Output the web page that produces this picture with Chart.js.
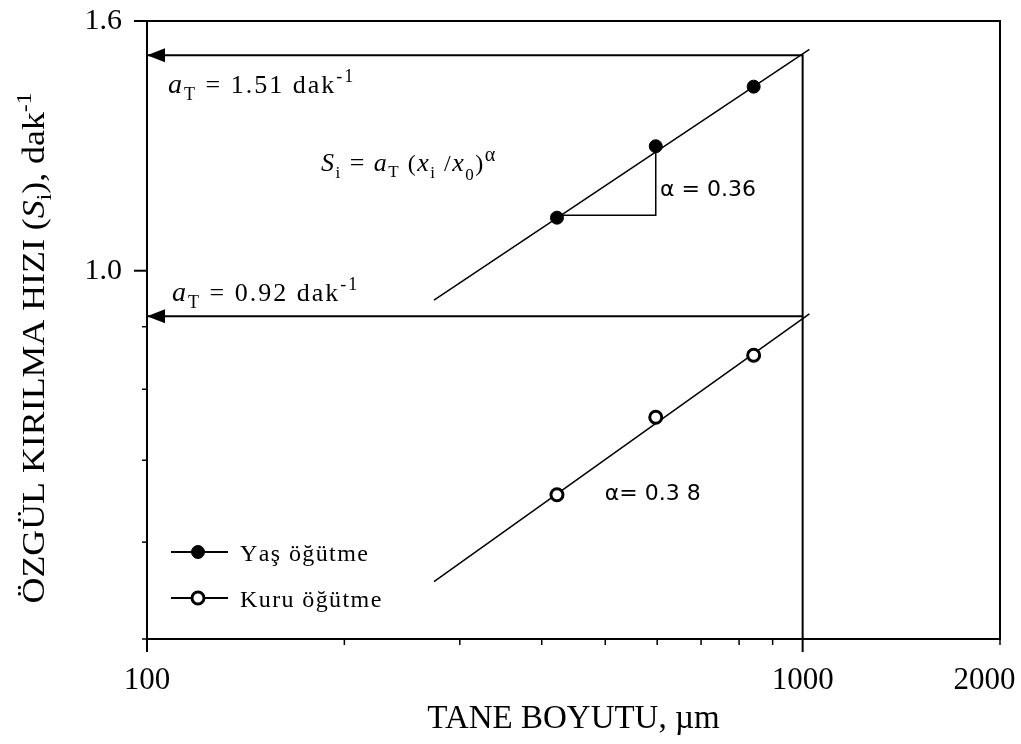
<!DOCTYPE html>
<html>
<head>
<meta charset="utf-8">
<script src="https://cdn.jsdelivr.net/npm/chart.js@4.4.0/dist/chart.umd.min.js"></script>
<style>
  html, body { margin: 0; padding: 0; background: #fff; }
  #wrap { width: 1021px; height: 744px; }
</style>
</head>
<body>
<div id="wrap"><canvas id="chart"></canvas></div>
<script>
// tane boyutu (µm) of the three fractions
const sizes = [422, 597, 842];
// özgül kırılma hızı S_i (dak-1)
const wetRates = [1.105, 1.264, 1.414];
const dryRates = [0.656, 0.759, 0.853];

// fitted lines, read at both ends
const fitX = [274, 1024];
const wetFitY = [0.946, 1.517];
const dryFitY = [0.557, 0.922];

// slope triangle on the wet line
const triX = [422, 597, 597];
const triY = [1.11, 1.11, 1.264];

// a_T read-off at x0 = 1000 µm
const wetReadX = [100, 1000, 1000];
const wetReadY = [1.50, 1.50, 0.5];
const dryReadX = [100, 1000];
const dryReadY = [0.918, 0.918];

const seriesNames = ['Yaş öğütme', 'Kuru öğütme'];

const xTicks = [100, 200, 300, 400, 500, 600, 700, 800, 900, 1000, 2000];
const xLabels = ['100', '', '', '', '', '', '', '', '', '1000', '2000'];
const xMajor = [100, 1000];
const yTicks = [0.5, 0.6, 0.7, 0.8, 0.9, 1.0, 1.6];
const yLabels = ['', '', '', '', '', '1.0', '1.6'];
const yMajor = [1.0, 1.6];

const SERIF = 'Liberation Serif';
const SANS = 'DejaVu Sans';

// text notes, anchored (left, baseline) in data units
const notes = [
  { x: 107.7, y: 1.397, sp: 2, parts: [['a', 'italic 28px ' + SERIF], ['T', '18px ' + SERIF, 7], [' = 1.51 dak', '26px ' + SERIF], ['-1', '18px ' + SERIF, -11]] },
  { x: 109.2, y: 0.9446, sp: 2, parts: [['a', 'italic 28px ' + SERIF], ['T', '18px ' + SERIF, 7], [' = 0.92 dak', '26px ' + SERIF], ['-1', '18px ' + SERIF, -11]] },
  { x: 184.2, y: 1.2067, sp: 1.5, parts: [['S', 'italic 26px ' + SERIF], ['i', '17px ' + SERIF, 7], [' = ', '26px ' + SERIF], ['a', 'italic 26px ' + SERIF], ['T', '17px ' + SERIF, 6], [' (', '24px ' + SERIF], ['x', 'italic 26px ' + SERIF], ['i', '17px ' + SERIF, 7], [' /', '24px ' + SERIF], ['x', 'italic 26px ' + SERIF], ['0', '17px ' + SERIF, 9], [')', '24px ' + SERIF], ['α', '20px ' + SERIF, -10]] },
  { x: 606, y: 1.151, sp: 0, parts: [['α = 0.36', '22px ' + SANS]] },
  { x: 499.3, y: 0.6496, sp: 0, parts: [['α= 0.3 8', '22px ' + SANS]] },
];

const pts = (xs, ys) => xs.map((x, i) => ({ x, y: ys[i] }));
const lineSet = (data, w) => ({
  data, showLine: true, borderColor: '#000', borderWidth: w,
  pointRadius: 0, fill: false, tension: 0,
});

function drawRich(ctx, x, y, parts, sp) {
  let cx = x;
  parts.forEach(([t, f, dy]) => {
    ctx.font = f;
    for (const ch of t) {
      ctx.fillText(ch, cx, y + (dy || 0));
      cx += ctx.measureText(ch).width + sp;
    }
  });
  return cx - x;
}

const decor = {
  id: 'decor',
  afterDraw(chart) {
    const { ctx, chartArea: { left, right, top, bottom }, scales: { x, y } } = chart;
    ctx.save();
    ctx.strokeStyle = '#000';
    ctx.fillStyle = '#000';

    // top and right frame
    ctx.lineWidth = 2;
    ctx.beginPath();
    ctx.moveTo(left, top); ctx.lineTo(right, top); ctx.lineTo(right, bottom);
    ctx.stroke();

    // tick marks
    y.ticks.forEach(t => {
      const py = y.getPixelForValue(t.value);
      const major = yMajor.includes(t.value);
      ctx.lineWidth = major ? 2 : 1.5;
      ctx.beginPath(); ctx.moveTo(left - (major ? 13 : 5), py); ctx.lineTo(left, py); ctx.stroke();
    });
    x.ticks.forEach(t => {
      const px = x.getPixelForValue(t.value);
      const major = xMajor.includes(t.value);
      ctx.lineWidth = major ? 2 : 1.5;
      ctx.beginPath(); ctx.moveTo(px, bottom); ctx.lineTo(px, bottom + (major ? 13 : 6)); ctx.stroke();
    });

    // arrow heads at the axis
    [[wetReadX[0], wetReadY[0]], [dryReadX[0], dryReadY[0]]].forEach(([vx, vy]) => {
      const px = x.getPixelForValue(vx), py = y.getPixelForValue(vy);
      ctx.beginPath();
      ctx.moveTo(px, py); ctx.lineTo(px + 18, py - 7); ctx.lineTo(px + 18, py + 7);
      ctx.closePath(); ctx.fill();
    });

    // notes
    ctx.textBaseline = 'alphabetic';
    ctx.textAlign = 'left';
    notes.forEach(n => drawRich(ctx, x.getPixelForValue(n.x), y.getPixelForValue(n.y), n.parts, n.sp));

    // legend
    [0, 1].forEach(i => {
      const ds = chart.data.datasets[i];
      const ly = top + 531 + i * 46;
      ctx.lineWidth = 2;
      ctx.beginPath(); ctx.moveTo(left + 24, ly); ctx.lineTo(left + 81, ly); ctx.stroke();
      ctx.beginPath(); ctx.arc(left + 51, ly, ds.pointRadius, 0, Math.PI * 2);
      ctx.fillStyle = ds.backgroundColor; ctx.fill();
      ctx.lineWidth = ds.borderWidth; ctx.stroke();
      ctx.fillStyle = '#000';
      drawRich(ctx, left + 93, ly + 9, [[ds.label, '24px ' + SERIF]], 1.4);
    });

    // y axis title
    ctx.save();
    ctx.translate(44, 348);
    ctx.rotate(-Math.PI / 2);
    ctx.scale(1.12, 1);
    const yTitle = [['ÖZGÜL KIRILMA HIZI (', '32px ' + SERIF], ['S', 'italic 32px ' + SERIF], ['i', '21px ' + SERIF, 7], ['), dak', '32px ' + SERIF], ['-1', '21px ' + SERIF, -13]];
    ctx.globalAlpha = 0;
    const w = drawRich(ctx, 0, 0, yTitle, 0);
    ctx.globalAlpha = 1;
    drawRich(ctx, -w / 2, 0, yTitle, 0);
    ctx.restore();

    ctx.restore();
  },
};

new Chart(document.getElementById('chart'), {
  type: 'scatter',
  data: {
    datasets: [
      { label: seriesNames[0], data: pts(sizes, wetRates), pointStyle: 'circle', pointRadius: 6.5, backgroundColor: '#000', borderColor: '#000', borderWidth: 1 },
      { label: seriesNames[1], data: pts(sizes, dryRates), pointStyle: 'circle', pointRadius: 6, backgroundColor: '#fff', borderColor: '#000', borderWidth: 3 },
      lineSet(pts(fitX, wetFitY), 1.5),
      lineSet(pts(fitX, dryFitY), 1.5),
      lineSet(pts(triX, triY), 1.5),
      lineSet(pts(wetReadX, wetReadY), 2),
      lineSet(pts(dryReadX, dryReadY), 2),
    ],
  },
  options: {
    responsive: true,
    maintainAspectRatio: false,
    animation: false,
    layout: { padding: { left: 0, top: 21, right: 21, bottom: 0 } },
    scales: {
      x: {
        type: 'logarithmic',
        min: 100,
        max: 2000,
        afterBuildTicks: s => { s.ticks = xTicks.map(v => ({ value: v })); },
        afterFit: s => { s.height = 105; s.paddingLeft = 0; s.paddingRight = 0; },
        ticks: {
          autoSkip: false, maxRotation: 0, minRotation: 0, padding: 23, color: '#000',
          font: { family: SERIF, size: 31 },
          callback: v => {
            const i = xTicks.indexOf(v);
            return i === xTicks.length - 1 ? xLabels[i] + '\u2002\u2002' : xLabels[i];
          },
        },
        grid: { display: false, drawTicks: false },
        border: { display: true, color: '#000', width: 2 },
        title: { display: true, text: 'TANE BOYUTU, µm', color: '#000', font: { family: SERIF, size: 33 }, padding: { top: 0, bottom: 5 } },
      },
      y: {
        type: 'logarithmic',
        min: 0.5,
        max: 1.6,
        afterBuildTicks: s => { s.ticks = yTicks.map(v => ({ value: v })); },
        afterFit: s => { s.width = 147; s.paddingTop = 0; s.paddingBottom = 0; },
        ticks: {
          autoSkip: false, padding: 25, color: '#000',
          font: { family: SERIF, size: 30 },
          callback: v => yLabels[yTicks.indexOf(v)],
        },
        grid: { display: false, drawTicks: false },
        border: { display: true, color: '#000', width: 2 },
      },
    },
    plugins: {
      legend: { display: false },
      tooltip: { enabled: false },
    },
  },
  plugins: [decor],
});
</script>
</body>
</html>
